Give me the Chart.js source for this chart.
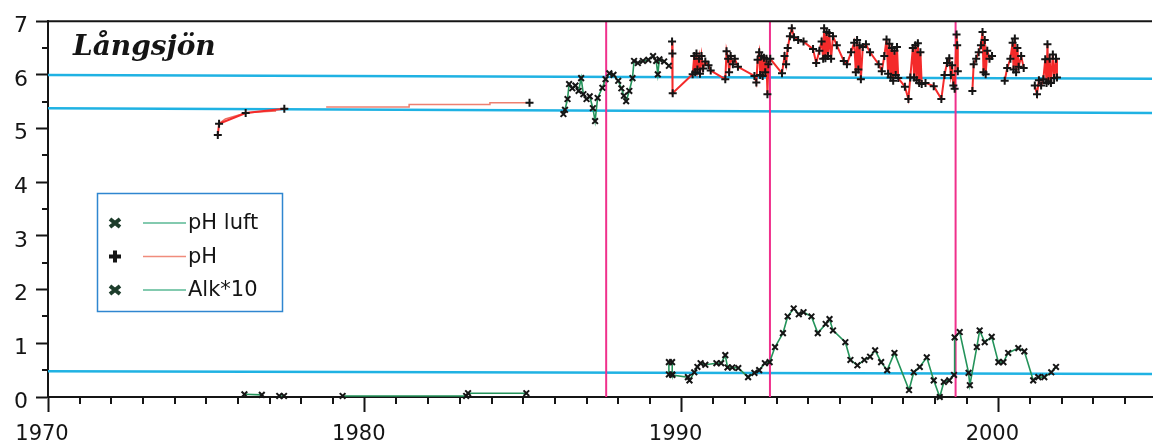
<!DOCTYPE html>
<html>
<head>
<meta charset="utf-8">
<title>Långsjön</title>
<script src="https://cdn.jsdelivr.net/npm/chart.js@4.4.1/dist/chart.umd.min.js"></script>
<style>
  html, body { margin: 0; padding: 0; background: #fff; }
  #wrap { width: 1158px; height: 443px; }
</style>
</head>
<body>
<div id="wrap"><canvas id="chart" width="1158" height="443"></canvas></div>
<script>
// --- data -------------------------------------------------------------
const lakeName = "Långsjön";
const xTickLabels = [1970, 1980, 1990, 2000];
const yTickLabels = [0, 1, 2, 3, 4, 5, 6, 7];
const xRange = [1970, 2004.85];

// pH measured in air-equilibrated samples
const phLuft = [
  [1986.27, 5.27], [1986.32, 5.35], [1986.40, 5.55], [1986.45, 5.83], [1986.55, 5.75],
  [1986.65, 5.80], [1986.75, 5.70], [1986.83, 5.94], [1986.90, 5.64], [1987.00, 5.55],
  [1987.10, 5.60], [1987.20, 5.38], [1987.27, 5.14], [1987.35, 5.57], [1987.50, 5.76],
  [1987.60, 5.92], [1987.72, 6.03], [1987.85, 6.00], [1988.00, 5.89], [1988.10, 5.75],
  [1988.18, 5.61], [1988.25, 5.51], [1988.35, 5.70], [1988.45, 5.94], [1988.50, 6.26],
  [1988.62, 6.22], [1988.78, 6.26], [1988.95, 6.28], [1989.10, 6.35], [1989.20, 6.26],
  [1989.25, 6.01], [1989.30, 6.29], [1989.45, 6.25], [1989.60, 6.17]
];

// pH, early annual values and the later monthly series
const ph = [
  [1975.36, 4.88], [1975.40, 5.09], [1976.24, 5.29], [1977.46, 5.37], [1977.50, null],
  [1985.20, 5.48], [1985.30, null],
  [1989.70, 6.62], [1989.71, 6.40], [1989.72, 5.66], [1990.35, 6.01], [1990.40, 6.35],
  [1990.43, 6.05], [1990.47, 6.40], [1990.50, 6.10], [1990.55, 6.30], [1990.58, 6.02],
  [1990.63, 6.35], [1990.68, 6.12], [1990.75, 6.25], [1990.85, 6.18], [1990.92, 6.08],
  [1991.38, 5.92], [1991.42, 6.44], [1991.47, 6.30], [1991.50, 6.05], [1991.55, 6.35],
  [1991.62, 6.20], [1991.68, 6.30], [1991.78, 6.15], [1992.30, 5.98], [1992.36, 5.86],
  [1992.40, 6.28], [1992.45, 6.42], [1992.48, 6.00], [1992.52, 6.35], [1992.56, 5.98],
  [1992.60, 6.32], [1992.64, 6.05], [1992.68, 6.30], [1992.71, 5.64], [1992.74, 6.20],
  [1992.80, 6.30], [1993.17, 6.03], [1993.25, 6.35], [1993.30, 6.20], [1993.35, 6.50],
  [1993.42, 6.72], [1993.48, 6.87], [1993.55, 6.70], [1993.68, 6.65], [1993.85, 6.62],
  [1994.15, 6.48], [1994.25, 6.22], [1994.35, 6.45], [1994.42, 6.62], [1994.47, 6.30],
  [1994.50, 6.87], [1994.54, 6.31], [1994.58, 6.80], [1994.62, 6.35], [1994.66, 6.78],
  [1994.72, 6.30], [1994.78, 6.72], [1994.90, 6.55], [1995.12, 6.26], [1995.22, 6.20],
  [1995.35, 6.42], [1995.45, 6.60], [1995.50, 6.05], [1995.54, 6.65], [1995.58, 6.10],
  [1995.62, 6.55], [1995.66, 5.92], [1995.72, 6.52], [1995.82, 6.57], [1995.95, 6.42],
  [1996.22, 6.20], [1996.32, 6.07], [1996.40, 6.35], [1996.47, 6.66], [1996.52, 6.02],
  [1996.56, 6.58], [1996.60, 5.95], [1996.64, 6.50], [1996.68, 5.89], [1996.72, 6.45],
  [1996.76, 6.00], [1996.80, 6.52], [1996.84, 5.94], [1997.05, 5.78], [1997.16, 5.55],
  [1997.22, 5.95], [1997.30, 6.50], [1997.34, 5.95], [1997.38, 6.55], [1997.42, 5.90],
  [1997.46, 6.59], [1997.50, 5.85], [1997.54, 6.42], [1997.58, 5.83], [1997.70, 5.85],
  [1997.96, 5.79], [1998.20, 5.55], [1998.30, 6.00], [1998.38, 6.22], [1998.45, 6.31],
  [1998.50, 6.00], [1998.54, 6.18], [1998.58, 5.80], [1998.62, 5.74], [1998.68, 6.75],
  [1998.70, 6.55], [1998.72, 6.07], [1998.90, null],
  [1999.18, 5.70], [1999.22, 6.20], [1999.30, 6.30], [1999.38, 6.42], [1999.45, 6.55],
  [1999.50, 6.80], [1999.53, 6.05], [1999.57, 6.65], [1999.60, 6.01], [1999.65, 6.45],
  [1999.72, 6.30], [1999.80, 6.35], [1999.95, null],
  [2000.20, 5.89], [2000.28, 6.13], [2000.38, 6.30], [2000.45, 6.60], [2000.48, 6.10],
  [2000.52, 6.68], [2000.56, 6.05], [2000.60, 6.50], [2000.64, 6.15], [2000.72, 6.35],
  [2000.80, 6.13], [2000.95, null],
  [2001.15, 5.80], [2001.22, 5.64], [2001.28, 5.90], [2001.35, 5.80], [2001.42, 5.92],
  [2001.48, 6.29], [2001.52, 5.85], [2001.55, 6.57], [2001.58, 5.88], [2001.62, 6.30],
  [2001.66, 5.85], [2001.72, 6.38], [2001.76, 5.94], [2001.82, 6.30], [2001.85, 5.95]
];

// early pH curve between samples, and annual means 1978-85 drawn as steps
const phEarlyCurve = [[1975.40, 5.09], [1975.60, 5.18], [1976.00, 5.25], [1976.24, 5.29], [1976.60, 5.31], [1977.20, 5.33]];
const phSteps = [[1978.78, 5.40], [1981.40, 5.45], [1983.95, 5.48], [1985.20, 5.48]];

// alkalinity x 10
const alk = [
  [1976.20, 0.05], [1976.75, 0.04], [1976.90, null],
  [1977.30, 0.02], [1977.45, 0.02], [1977.60, null],
  [1979.30, 0.02], [1983.20, 0.02], [1983.26, 0.07], [1985.10, 0.07], [1985.30, null],
  [1989.60, 0.65], [1989.60, 0.42], [1989.70, 0.42], [1989.70, 0.65], [1989.71, 0.41],
  [1990.20, 0.37], [1990.25, 0.31], [1990.40, 0.46], [1990.50, 0.56], [1990.60, 0.63],
  [1990.75, 0.60], [1991.10, 0.63], [1991.25, 0.63], [1991.38, 0.78], [1991.45, 0.55],
  [1991.60, 0.55], [1991.79, 0.54], [1992.10, 0.37], [1992.30, 0.45], [1992.45, 0.50],
  [1992.63, 0.63], [1992.78, 0.65], [1992.95, 0.93], [1993.20, 1.19], [1993.35, 1.50],
  [1993.54, 1.65], [1993.70, 1.54], [1993.85, 1.58], [1994.10, 1.50], [1994.30, 1.19],
  [1994.55, 1.36], [1994.67, 1.45], [1994.78, 1.24], [1995.17, 1.02], [1995.33, 0.69],
  [1995.55, 0.59], [1995.77, 0.69], [1995.95, 0.75], [1996.11, 0.87], [1996.30, 0.65],
  [1996.49, 0.50], [1996.72, 0.82], [1997.18, 0.13], [1997.33, 0.46], [1997.52, 0.56],
  [1997.74, 0.74], [1997.96, 0.31], [1998.15, 0.00], [1998.28, 0.28], [1998.45, 0.31],
  [1998.60, 0.41], [1998.62, 1.11], [1998.78, 1.21], [1999.06, 0.45], [1999.10, 0.22],
  [1999.32, 0.93], [1999.41, 1.24], [1999.57, 1.02], [1999.79, 1.12], [2000.00, 0.65],
  [2000.16, 0.65], [2000.31, 0.82], [2000.63, 0.91], [2000.82, 0.85], [2001.10, 0.31],
  [2001.26, 0.37], [2001.45, 0.37], [2001.67, 0.46], [2001.82, 0.56]
];

// reference levels (start, end)
const phUpperRef = [6.00, 5.93];
const phLowerRef = [5.38, 5.29];
const alkRef = [0.48, 0.43];

// liming dates
const limingYears = [1987.62, 1992.79, 1998.65];

// --- helpers ------------------------------------------------------------
const toPoints = list => list.map(([x, y]) => ({ x, y }));
const refLine = pair => [{ x: xRange[0], y: pair[0] }, { x: xRange[1], y: pair[1] }];

const GREEN = "#23935a";
const RED = "#f42a2a";
const INK = "#151515";
const FONT = "'DejaVu Sans', sans-serif";

const markerOpts = style => ({
  pointStyle: style,
  pointRadius: 4,
  pointBorderWidth: 2,
  pointBorderColor: INK,
  pointBackgroundColor: INK,
  pointHoverRadius: 4
});

// minor ticks, year labels, top frame line, title and key
const decorations = {
  id: "decorations",
  afterDraw(chart) {
    const { ctx, chartArea: area, scales: { x, y } } = chart;
    ctx.save();
    ctx.strokeStyle = INK;
    ctx.lineWidth = 2;

    // top frame
    ctx.beginPath();
    ctx.moveTo(area.left, area.top);
    ctx.lineTo(area.right, area.top);
    ctx.stroke();

    // yearly ticks
    ctx.beginPath();
    for (let yr = Math.ceil(xRange[0]); yr <= xRange[1]; yr++) {
      if (yr % 10 === 0) continue;
      const px = Math.round(x.getPixelForValue(yr));
      ctx.moveTo(px, area.bottom);
      ctx.lineTo(px, area.bottom + 7);
    }
    // half-unit ticks
    for (let v = 0.5; v < 7; v += 1) {
      const py = Math.round(y.getPixelForValue(v));
      ctx.moveTo(area.left - 6, py);
      ctx.lineTo(area.left, py);
    }
    ctx.stroke();

    // decade labels
    ctx.fillStyle = INK;
    ctx.font = "21px " + FONT;
    ctx.textAlign = "center";
    ctx.textBaseline = "alphabetic";
    xTickLabels.forEach(v => {
      ctx.fillText(String(v), x.getPixelForValue(v) - 6, 440);
    });

    // lake name
    ctx.font = "italic bold 28px 'DejaVu Serif', serif";
    ctx.textAlign = "left";
    ctx.fillText(lakeName, 73, 55);

    // key
    ctx.strokeStyle = "#2f86d0";
    ctx.lineWidth = 1.5;
    ctx.strokeRect(97.5, 193.5, 185, 118);

    const rows = chart.data.datasets.filter(d => d.keyMarker);
    rows.forEach((d, i) => {
      const cy = 223 + i * 33.5;
      const mx = 115;
      ctx.strokeStyle = d.keyMarkerColor;
      ctx.lineWidth = 4;
      ctx.beginPath();
      if (d.keyMarker === "plus") {
        ctx.moveTo(mx - 6, cy); ctx.lineTo(mx + 6, cy);
        ctx.moveTo(mx, cy - 6); ctx.lineTo(mx, cy + 6);
      } else {
        ctx.moveTo(mx - 5, cy - 4); ctx.lineTo(mx + 5, cy + 4);
        ctx.moveTo(mx + 5, cy - 4); ctx.lineTo(mx - 5, cy + 4);
      }
      ctx.stroke();

      ctx.strokeStyle = d.keyLineColor;
      ctx.lineWidth = 1.5;
      ctx.beginPath();
      ctx.moveTo(143, cy);
      ctx.lineTo(186, cy);
      ctx.stroke();

      ctx.fillStyle = INK;
      ctx.font = "21px " + FONT;
      ctx.textBaseline = "middle";
      ctx.fillText(d.label, 188, cy + 1);
    });
    ctx.restore();
  }
};

new Chart(document.getElementById("chart"), {
  type: "line",
  data: {
    datasets: [
      {
        label: "pH luft",
        data: toPoints(phLuft),
        borderColor: GREEN,
        borderWidth: 1.6,
        ...markerOpts("crossRot"),
        keyMarker: "x",
        keyMarkerColor: "#1e3d2c",
        keyLineColor: "#5ab995",
        order: 1,
        clip: false
      },
      {
        label: "pH",
        data: toPoints(ph),
        borderColor: RED,
        borderWidth: 2,
        spanGaps: false,
        ...markerOpts("cross"),
        keyMarker: "plus",
        keyMarkerColor: INK,
        keyLineColor: "#f08c7c",
        order: 2,
        clip: false
      },
      {
        label: "Alk*10",
        data: toPoints(alk),
        borderColor: GREEN,
        borderWidth: 1.6,
        spanGaps: false,
        ...markerOpts("crossRot"),
        keyMarker: "x",
        keyMarkerColor: "#1e3d2c",
        keyLineColor: "#5ab995",
        order: 1,
        clip: false
      },
      {
        label: "pH curve",
        data: toPoints(phEarlyCurve),
        borderColor: "#ee6a5c",
        borderWidth: 1.6,
        pointRadius: 0,
        order: 3
      },
      {
        label: "pH steps",
        data: toPoints(phSteps),
        borderColor: "#ee8070",
        borderWidth: 1.5,
        stepped: "before",
        pointRadius: 0,
        order: 3
      },
      {
        label: "liming",
        data: limingYears.flatMap(yr => [{ x: yr, y: 0 }, { x: yr, y: 7 }, { x: yr, y: null }]),
        borderColor: "#f0308c",
        borderWidth: 2,
        spanGaps: false,
        pointRadius: 0,
        order: 4
      },
      ...[phUpperRef, phLowerRef, alkRef].map(pair => ({
        label: "ref",
        data: refLine(pair),
        borderColor: "#1fb2e3",
        borderWidth: 2.5,
        pointRadius: 0,
        order: 5
      }))
    ]
  },
  options: {
    responsive: false,
    animation: false,
    events: [],
    layout: { padding: { top: 20, left: 0, right: 0, bottom: 0 } },
    plugins: {
      legend: { display: false },
      tooltip: { enabled: false }
    },
    scales: {
      x: {
        type: "linear",
        min: xRange[0],
        max: xRange[1],
        afterFit: s => { s.height = 46; },
        afterBuildTicks: s => { s.ticks = xTickLabels.map(v => ({ value: v })); },
        border: { color: INK, width: 2 },
        grid: { drawOnChartArea: false, tickLength: 15, tickWidth: 2, tickColor: INK },
        ticks: {
          callback: v => String(v),
          color: "rgba(0,0,0,0)",
          font: { family: FONT, size: 21 },
          maxRotation: 0
        }
      },
      y: {
        min: 0,
        max: 7,
        afterFit: s => { s.width = 48; },
        afterBuildTicks: s => { s.ticks = yTickLabels.map(v => ({ value: v })); },
        border: { color: INK, width: 2 },
        grid: { drawOnChartArea: false, tickLength: 12, tickWidth: 2, tickColor: INK },
        ticks: {
          callback: v => String(v),
          color: INK,
          font: { family: FONT, size: 22 },
          padding: 8,
          labelOffset: 5
        }
      }
    }
  },
  plugins: [decorations]
});
</script>
</body>
</html>
